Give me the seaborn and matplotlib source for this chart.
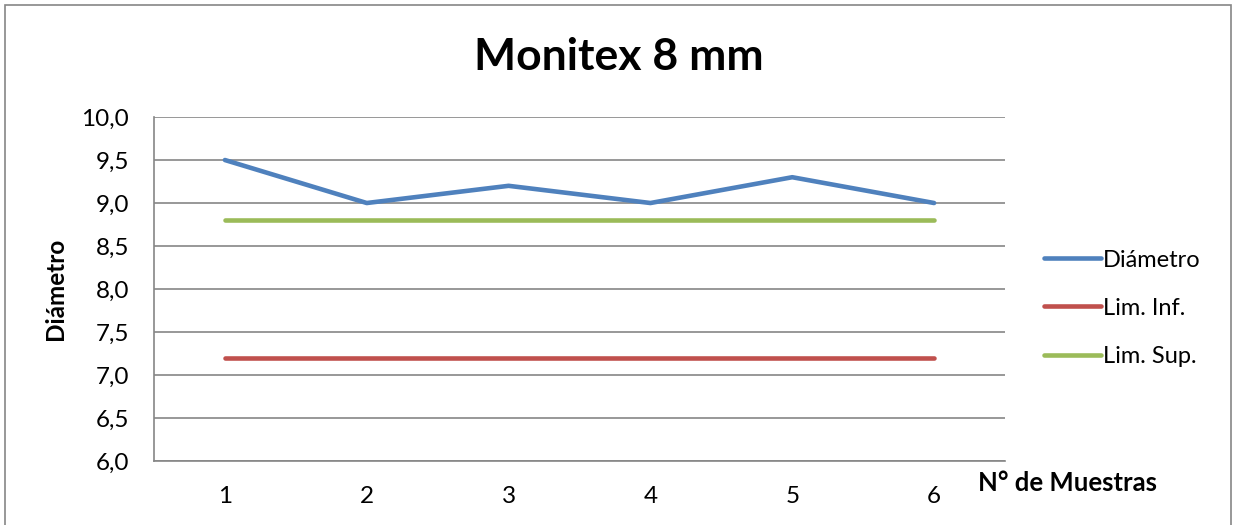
import matplotlib.pyplot as plt
import matplotlib.patches as mpatches
import pandas as pd
import seaborn as sns

# data
muestras = [1, 2, 3, 4, 5, 6]
diametro = [9.5, 9.0, 9.2, 9.0, 9.3, 9.0]
lim_inf = [7.2, 7.2, 7.2, 7.2, 7.2, 7.2]
lim_sup = [8.8, 8.8, 8.8, 8.8, 8.8, 8.8]
y_ticks = [6.0, 6.5, 7.0, 7.5, 8.0, 8.5, 9.0, 9.5, 10.0]
series = ['Diámetro', 'Lim. Inf.', 'Lim. Sup.']
colors = ['#4F81BD', '#C0504D', '#9BBB59']

#_______________________________________________________________
df = pd.DataFrame({
    'muestra': muestras * 3,
    'valor': diametro + lim_inf + lim_sup,
    'serie': [series[0]] * 6 + [series[1]] * 6 + [series[2]] * 6,
})

sns.set_style('white')
plt.rcParams['font.family'] = ['Lato', 'DejaVu Sans']
plt.rcParams['text.color'] = 'black'
plt.rcParams['axes.labelcolor'] = 'black'
plt.rcParams['xtick.color'] = 'black'
plt.rcParams['ytick.color'] = 'black'

fig = plt.figure(figsize=(12.38, 5.25), dpi=100)
ax = fig.add_axes([0.1244, 0.1219, 0.6874, 0.6552])

sns.lineplot(data=df, x='muestra', y='valor', hue='serie', hue_order=series,
             palette=colors, linewidth=3.3, solid_capstyle='round', ax=ax, legend=False)

ax.set_xlim(0.5, 6.5)
ax.set_ylim(6.0, 10.0)
ax.set_xticks(muestras)
ax.set_xticklabels([str(m) for m in muestras], fontsize=17.5)
ax.set_yticks(y_ticks)
ax.set_yticklabels([f'{v:.1f}'.replace('.', ',') for v in y_ticks], fontsize=17.5)
ax.tick_params(length=0)
ax.tick_params(axis='x', pad=18)
ax.tick_params(axis='y', pad=18)
ax.yaxis.grid(True, color='#868686', linewidth=1.2)
ax.set_axisbelow(True)
for side in ['top', 'right']:
    ax.spines[side].set_visible(False)
for side in ['left', 'bottom']:
    ax.spines[side].set_color('#868686')
    ax.spines[side].set_linewidth(1.2)

ax.set_xlabel('')
ax.set_ylabel('Diámetro', fontsize=17.5, fontweight='bold', labelpad=10)
fig.text(0.79, 0.08, 'N° de Muestras', fontsize=18.5, fontweight='bold', ha='left', va='center')
fig.suptitle('Monitex 8 mm', fontsize=32, fontweight='bold', x=0.50, y=0.891, va='center')

handles = [plt.Line2D([], [], color=c, linewidth=3.3, solid_capstyle='round') for c in colors]
fig.legend(handles, series, loc='center left', bbox_to_anchor=(0.826, 0.413),
           frameon=False, fontsize=17, handlelength=2.4, handletextpad=0.1,
           labelspacing=1.15)

# outer frame of the chart area
fig.patches.append(mpatches.Rectangle((0.004, -0.01), 0.99, 1.0, transform=fig.transFigure,
                                      fill=False, edgecolor='#868686', linewidth=1.2))

fig.savefig('out.png', dpi=100)
